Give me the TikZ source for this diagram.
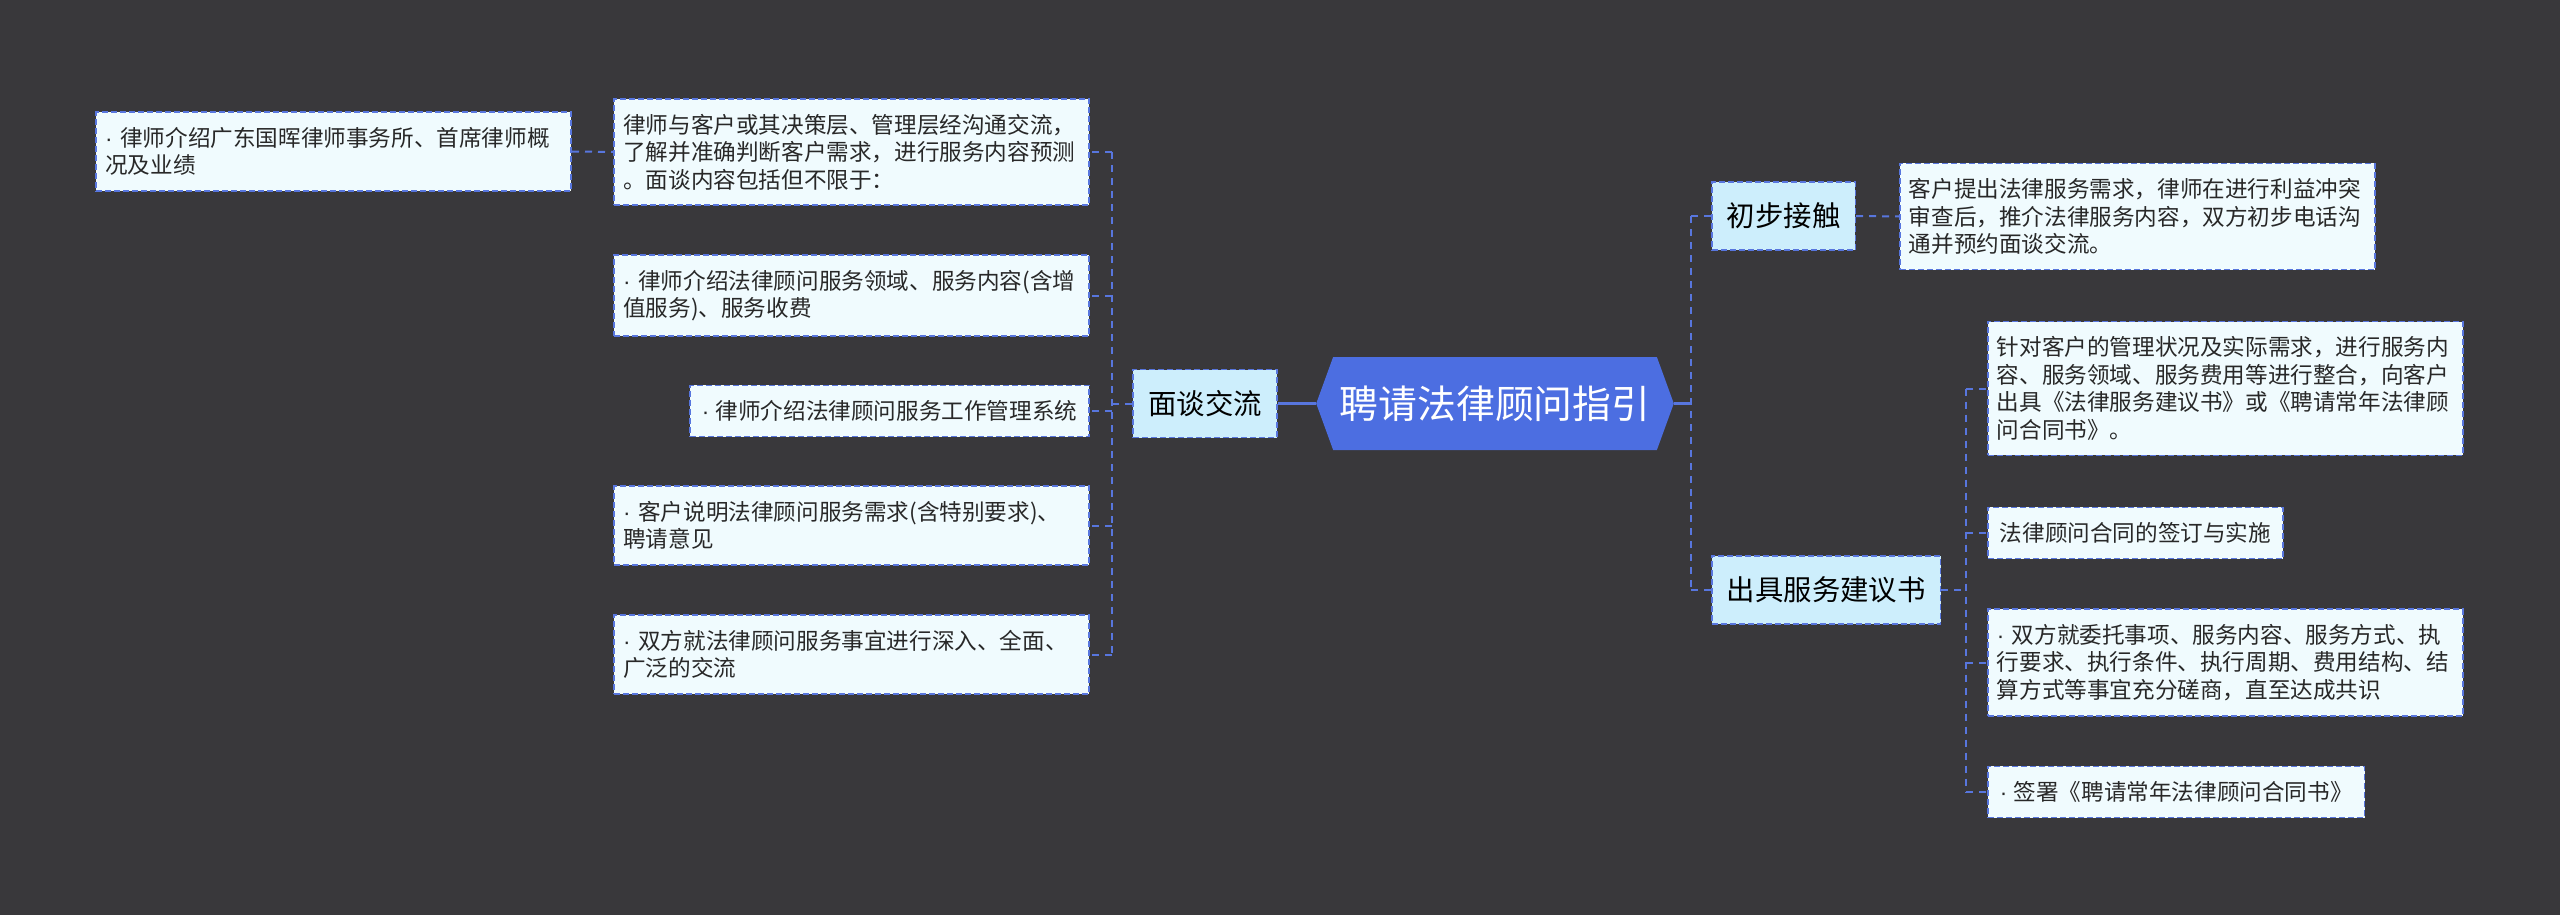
\documentclass[tikz,border=0pt]{standalone}
\usepackage{fontspec}
\setmainfont{Noto Sans CJK SC}
\newfontfamily\dotfont{Liberation Sans}
\newcommand{\bul}{{\dotfont · }\ignorespaces}
\usepackage{tikz}
\usetikzlibrary{positioning, shapes.symbols}
\definecolor{MapBack}{RGB}{57,56,59}
\definecolor{RootBlue}{RGB}{76,110,225}
\definecolor{LinkBlue}{RGB}{88,118,222}
\definecolor{MidFill}{RGB}{205,238,252}
\definecolor{LeafFill}{RGB}{240,251,254}
\definecolor{InkGray}{RGB}{40,40,40}

\begin{document}
\begin{tikzpicture}[x=0.5pt, y=-0.5pt,
	link/.style={LinkBlue, line width=1pt, dash pattern=on 3.5pt off 3pt},
	stem/.style={LinkBlue, line width=1.2pt},
	leaf/.style={draw=LinkBlue, line width=0.8pt, dash pattern=on 3pt off 1.5pt,
		fill=LeafFill, text=InkGray, inner xsep=6pt, inner ysep=7.5pt, align=left,
		font=\fontsize{11.3pt}{13.75pt}\selectfont},
	wide/.style={leaf, inner xsep=4.5pt, text width=228.5pt},
	topic/.style={draw=LinkBlue, line width=0.8pt, dash pattern=on 3pt off 1.5pt,
		fill=MidFill, text=black, inner xsep=7.5pt, minimum height=34pt,
		font=\fontsize{14.2pt}{17pt}\selectfont},
	root/.style={signal, signal to=east and west, signal pointer angle=140,
		fill=RootBlue, text=white, minimum width=177pt, minimum height=46.5pt,
		font=\fontsize{19.4pt}{22pt}\selectfont}]
	\fill[MapBack] (0,0) rectangle (2560,915);
	\useasboundingbox (0,0) rectangle (2560,915);

	% centro
	\node[root] (root) at (1495,403.5) {聘请法律顾问指引};

	% rama izquierda
	\node[topic] (mian) at (1205,403.5) {面谈交流};
	\node[wide, anchor=east] (l1) at (1090,152) {律师与客户或其决策层、管理层经沟通交流，\\了解并准确判断客户需求，进行服务内容预测\\。面谈内容包括但不限于：};
	\node[wide, anchor=east] (l2) at (1090,295.5) {\bul 律师介绍法律顾问服务领域、服务内容(含增\\值服务)、服务收费};
	\node[leaf, anchor=east] (l3) at (1090,411) {\bul 律师介绍法律顾问服务工作管理系统};
	\node[wide, anchor=east] (l4) at (1090,525.5) {\bul 客户说明法律顾问服务需求(含特别要求)、\\聘请意见};
	\node[wide, anchor=east] (l5) at (1090,654.5) {\bul 双方就法律顾问服务事宜进行深入、全面、\\广泛的交流};
	\node[wide, anchor=east] (l0) at (572,151.5) {\bul 律师介绍广东国晖律师事务所、首席律师概\\况及业绩};

	% rama derecha
	\node[topic, anchor=west] (chubu) at (1711,216) {初步接触};
	\node[topic, anchor=west] (chuju) at (1711,590) {出具服务建议书};
	\node[wide, anchor=west] (r0) at (1899,216.5) {客户提出法律服务需求，律师在进行利益冲突\\审查后，推介法律服务内容，双方初步电话沟\\通并预约面谈交流。};
	\node[wide, anchor=west] (ra) at (1987,388.5) {针对客户的管理状况及实际需求，进行服务内\\容、服务领域、服务费用等进行整合，向客户\\出具《法律服务建议书》或《聘请常年法律顾\\问合同书》。};
	\node[leaf, anchor=west] (rb) at (1987,533) {法律顾问合同的签订与实施};
	\node[wide, anchor=west] (rc) at (1987,662.5) {\bul 双方就委托事项、服务内容、服务方式、执\\行要求、执行条件、执行周期、费用结构、结\\算方式等事宜充分磋商，直至达成共识};
	\node[leaf, anchor=west] (rd) at (1987,792) {\bul 签署《聘请常年法律顾问合同书》};

	% conectores izquierda
	\coordinate (lhub) at (1112,403.5);
	\draw[stem] (root.west) -- (mian.east);
	\draw[link] (mian.west) -- (lhub);
	\draw[link] (lhub |- l1.east) -- (lhub |- l5.east);
	\foreach \n in {l1,l2,l3,l4,l5}
		\draw[link] (lhub |- \n.east) -- (\n.east);
	\draw[link] (l0.east) -- (l1.west);

	% conectores derecha
	\coordinate (rhub) at (1691,403.5);
	\draw[stem] (root.east) -- (rhub);
	\draw[link] (rhub |- chubu.west) -- (rhub |- chuju.west);
	\foreach \n in {chubu,chuju}
		\draw[link] (rhub |- \n.west) -- (\n.west);
	\draw[link] (chubu.east) -- (r0.west);
	\coordinate (shub) at (1966,590);
	\draw[link] (chuju.east) -- (shub);
	\draw[link] (shub |- ra.west) -- (shub |- rd.west);
	\foreach \n in {ra,rb,rc,rd}
		\draw[link] (shub |- \n.west) -- (\n.west);
\end{tikzpicture}
\end{document}
